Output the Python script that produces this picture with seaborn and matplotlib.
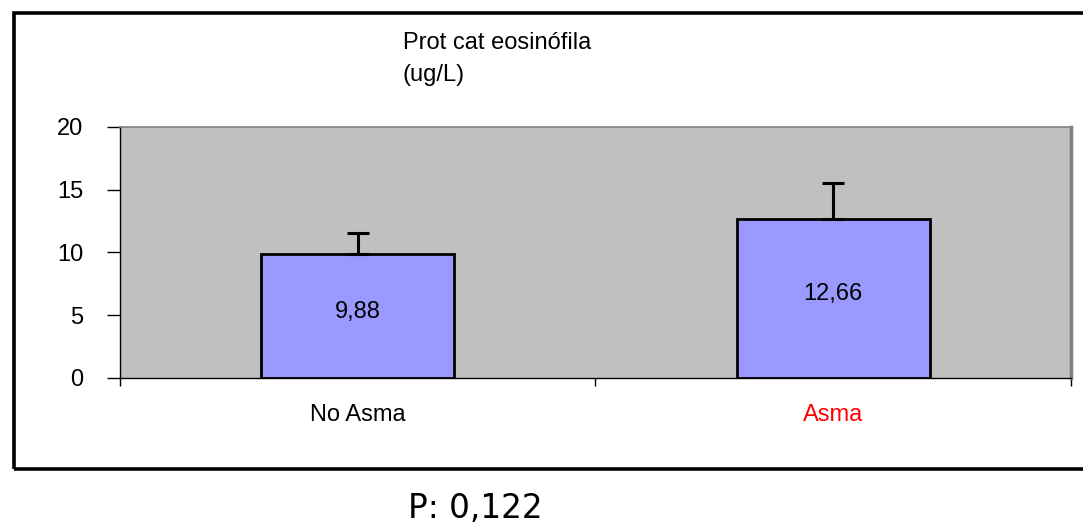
import matplotlib
matplotlib.use('Agg')
import matplotlib.pyplot as plt
import seaborn as sns
import pandas as pd
from matplotlib.patches import Rectangle

# Data
grupos = ['No Asma', 'Asma']
medias = [9.88, 12.66]
error_sup = [1.67, 2.85]   # upper error bar only
y_ticks = [0, 5, 10, 15, 20]
titulo = 'Prot cat eosinófila\n(ug/L)'
p_valor = 'P: 0,122'

sns.set_style('white')
plt.rcParams['font.family'] = ['Liberation Sans', 'DejaVu Sans']
plt.rcParams['text.color'] = 'black'
plt.rcParams['xtick.color'] = 'black'
plt.rcParams['ytick.color'] = 'black'

df = pd.DataFrame({'grupo': grupos, 'media': medias})

fig = plt.figure(figsize=(10.83, 5.28), dpi=100)
ax = fig.add_axes([0.1108, 0.2841, 0.8781, 0.4754])
ax.set_facecolor('#C0C0C0')

sns.barplot(data=df, x='grupo', y='media', color='#9999FF', saturation=1,
            edgecolor='black', linewidth=2, width=0.405, errorbar=None, ax=ax)

# error bars go up only
ax.errorbar(range(len(grupos)), medias, yerr=[[0] * len(grupos), error_sup],
            fmt='none', ecolor='black', elinewidth=2.2, capsize=8, capthick=2.2)

# values inside the bars
ax.bar_label(ax.containers[0], labels=[f'{v:.2f}'.replace('.', ',') for v in medias],
             label_type='center', fontsize=17, color='black', padding=3)

ax.set_xlim(-0.5, 1.5)
ax.set_ylim(0, 20)
ax.set_yticks(y_ticks)
ax.set_xlabel('')
ax.set_ylabel('')

ax.set_xticks([-0.5, 0.5, 1.5], minor=True)
ax.tick_params(axis='x', which='major', bottom=True, length=0, pad=19,
               labelsize=17, labelcolor='black')
ax.tick_params(axis='x', which='minor', bottom=True, length=6, width=1,
               color='black', direction='out')
ax.tick_params(axis='y', left=True, length=9.5, width=1, color='black',
               direction='out', pad=17, labelsize=17, labelcolor='black')
ax.get_xticklabels()[1].set_color('red')

for lado in ['left', 'bottom']:
    ax.spines[lado].set_color('black')
    ax.spines[lado].set_linewidth(1)
ax.spines['top'].set_color('#808080')
ax.spines['top'].set_linewidth(1.2)
ax.spines['right'].set_color('#808080')
ax.spines['right'].set_linewidth(2.5)

fig.text(403 / 1083, 0.94, titulo, ha='left', va='top', fontsize=17,
         linespacing=1.6, color='black')

# outer frame (goes off the right edge like the original)
fig.patches.append(Rectangle((14 / 1083, 1 - 468.5 / 528), 1.0, 456 / 528,
                             transform=fig.transFigure, fill=False,
                             edgecolor='black', linewidth=2.6, clip_on=False))

fig.text(408 / 1083, 1 - 508 / 528, p_valor, ha='left', va='center',
         fontsize=23.5, family=['DejaVu Sans'], color='black')

fig.savefig('out.png', dpi=100)
